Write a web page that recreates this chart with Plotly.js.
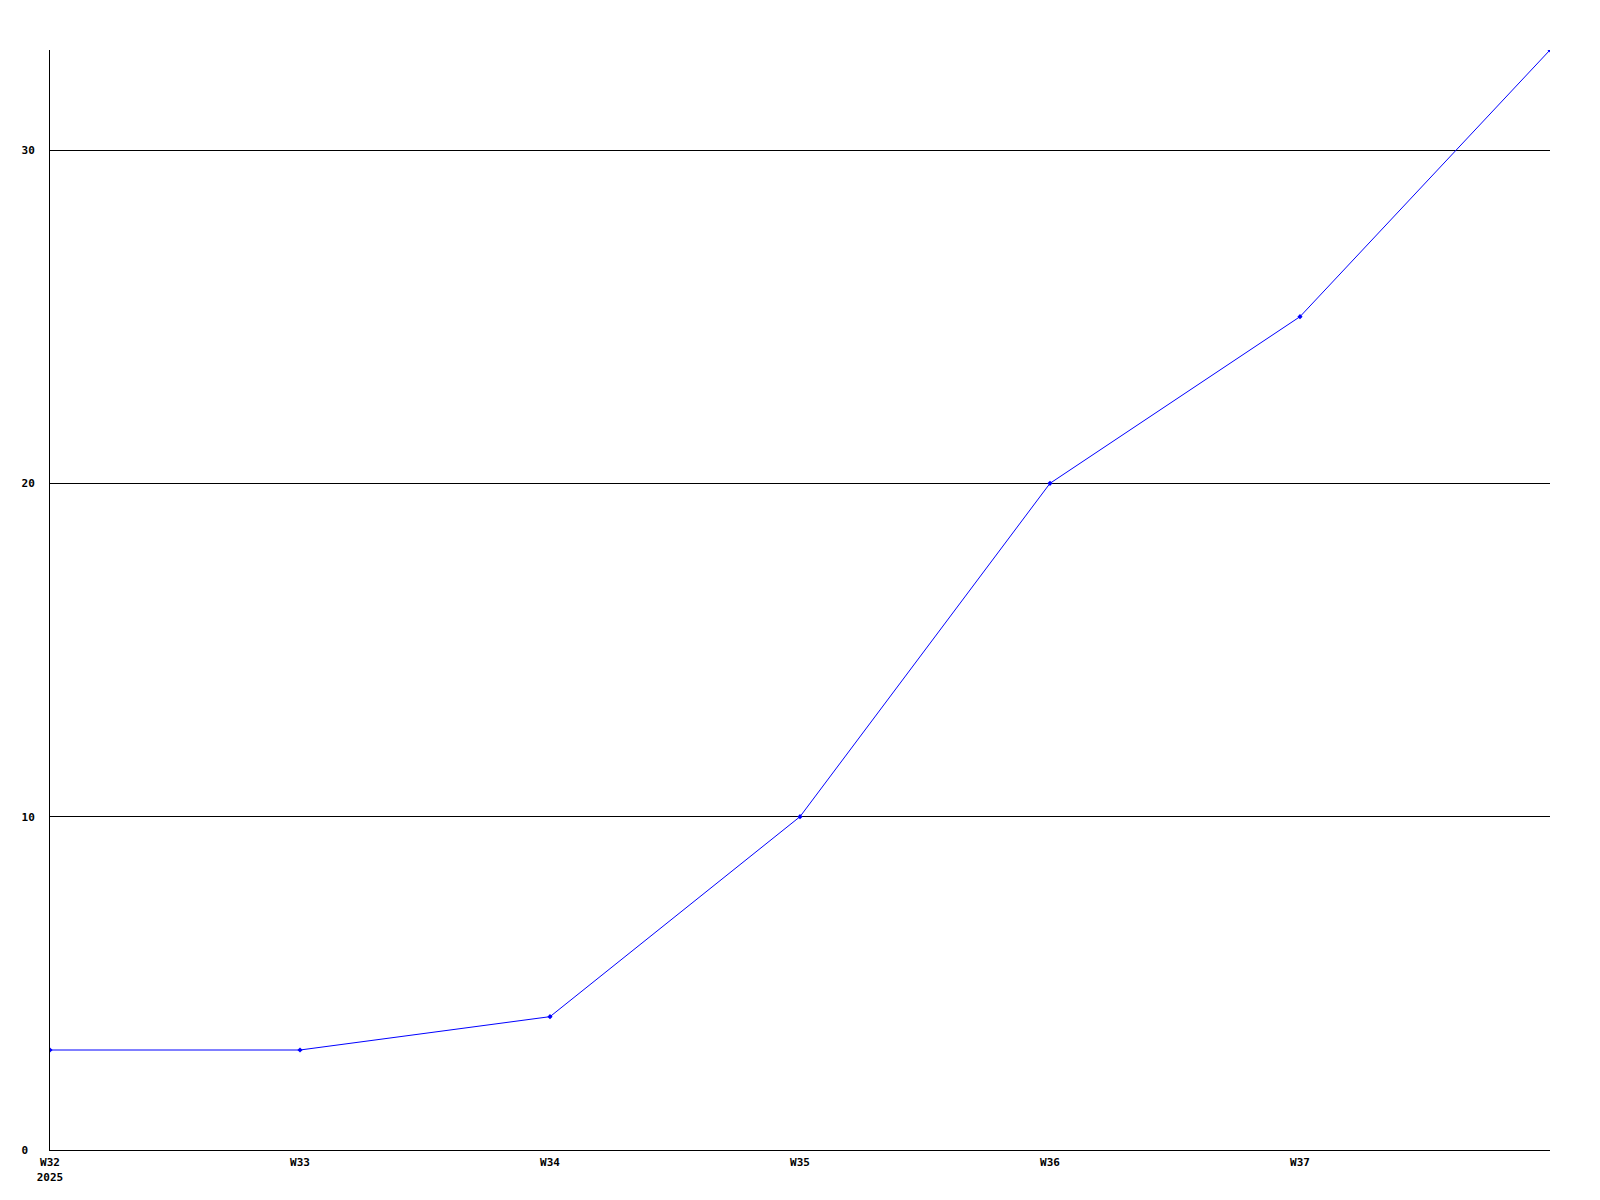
<!DOCTYPE html>
<html>
<head>
<meta charset="utf-8">
<script src="https://cdn.plot.ly/plotly-3.0.1.min.js"></script>
<style>html,body{margin:0;padding:0;background:#fff;}#chart{width:1600px;height:1200px;}</style>
</head>
<body>
<div id="chart"></div>
<script>
const weeks = ['W32','W33','W34','W35','W36','W37','W38'];
const values = [3, 3, 4, 10, 20, 25, 33];
const xTickVals = ['W32','W33','W34','W35','W36','W37'];
const xTickText = ['W32<br>2025','W33','W34','W35','W36','W37'];
const yTickVals = [0, 10, 20, 30];
const yTickText = ['0\u00a0', '10', '20', '30'];

const font = {family: 'DejaVu Sans Mono, monospace', size: 11, color: '#000', weight: 'bold'};

Plotly.newPlot('chart', [{
  x: weeks, y: values, type: 'scatter', mode: 'lines+markers',
  line: {color: '#0000ff', width: 1},
  marker: {color: '#0000ff', size: 4, symbol: 'diamond'},
  cliponaxis: true
}], {
  width: 1600, height: 1200,
  margin: {l: 50, r: 50, t: 50, b: 50},
  paper_bgcolor: '#fff', plot_bgcolor: '#fff',
  showlegend: false,
  font: font,
  xaxis: {
    type: 'category', range: [0, 6],
    tickvals: xTickVals, ticktext: xTickText,
    showgrid: false, zeroline: false,
    showline: true, linecolor: '#000', linewidth: 1,
    ticks: '', tickfont: font, ticklabelstandoff: 2
  },
  yaxis: {
    range: [0, 33],
    tickvals: yTickVals, ticktext: yTickText,
    showgrid: true, gridcolor: '#000', gridwidth: 1,
    zeroline: false,
    showline: true, linecolor: '#000', linewidth: 1,
    ticks: '', tickfont: font, ticklabelstandoff: 12
  }
}, {staticPlot: true});
</script>
</body>
</html>
